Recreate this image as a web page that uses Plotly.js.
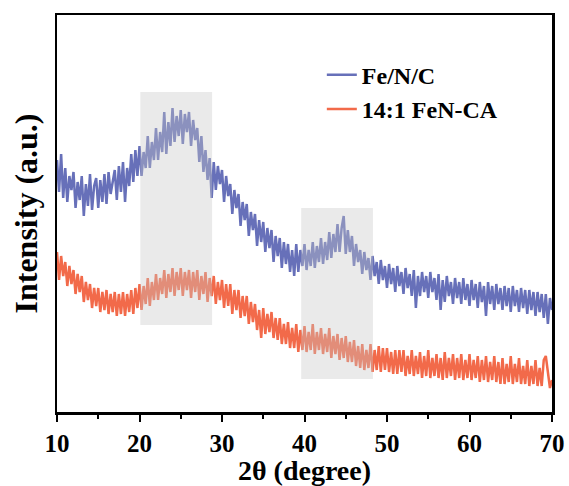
<!DOCTYPE html>
<html>
<head>
<meta charset="utf-8">
<script src="https://cdn.plot.ly/plotly-3.0.1.min.js"></script>
<style>html,body{margin:0;padding:0;background:#fff;}#chart{width:569px;height:486px;}</style>
</head>
<body>
<div id="chart"></div>
<script>
// 2θ grid: 10° to 70° in 0.25° steps
const angleStart = 10;
const angleStep = 0.25;

// Fe/N/C intensity (a.u.)
const feNC = [
252,220,258,214, 244,210,236,222, 240,204,230,212, 236,196,228,206,
238,202,226,234, 204,232,210,238, 208,240,218,230, 242,212,246,220,
250,210,244,226, 258,230,262,236, 266,236,260,244, 276,244,270,252,
284,252,280,260, 300,258,290,266, 304,270,296,276, 302,268,298,280,
300,266,292,272, 284,250,276,240, 262,232,254,214, 250,222,246,228,
242,210,236,216, 228,198,222,204, 218,186,210,192, 208,176,200,182,
198,166,192,170, 190,160,184,164, 182,150,176,156, 174,144,170,148,
168,140,162,136, 168,140,162,146, 168,142,162,146, 170,144,166,150,
174,148,170,152, 180,154,178,160, 188,160,184,196, 158,182,160,176,
146,168,150,162, 138,160,142,154, 132,156,136,150, 128,152,132,146,
124,148,128,144, 120,146,126,140, 118,144,124,138, 116,142,104,136,
116,140,120,136, 114,140,120,134, 112,138,102,132, 110,136,116,130,
108,134,114,130, 108,134,112,128, 106,132,112,128, 104,130,110,126,
96,130,108,126, 102,128,108,124, 102,126,106,124, 100,126,106,122,
100,124,104,122, 98,122,102,120, 96,120,100,118, 94,118,88,114,
102
];

// 14:1 FeN-CA intensity (a.u.)
const feNCA = [
160,132,156,136, 150,126,146,128, 142,118,138,120, 136,110,130,112,
128,104,124,106, 124,100,120,102, 122,98,118,100, 120,96,118,98,
120,96,118,100, 122,98,124,104, 128,102,126,108, 134,106,130,112,
138,112,134,118, 142,114,138,120, 144,116,140,122, 144,116,140,122,
142,114,140,120, 142,112,136,118, 140,110,134,116, 136,108,130,112,
132,104,128,106, 128,98,122,102, 122,94,116,96, 116,88,110,90,
108,82,102,74, 104,78,98,80, 100,74,94,72, 94,68,88,68,
90,64,84,64, 88,60,82,62, 86,60,80,62, 88,58,80,62,
84,58,78,60, 84,54,76,58, 78,52,74,54, 76,50,70,50,
72,46,66,44, 68,42,62,44, 68,40,62,42, 66,40,64,42,
64,40,60,38, 62,38,62,40, 62,36,56,38, 62,36,56,38,
60,34,56,36, 62,34,54,36, 58,34,54,32, 60,34,54,36,
58,32,54,34, 58,32,52,34, 58,32,52,34, 56,30,52,32,
56,30,50,32, 56,30,50,28, 54,28,48,30, 56,28,48,30,
54,28,46,28, 52,26,46,28, 52,26,44,26, 52,56,40,24,
32
];

// Shaded 2θ regions [start, end] and their intensity extents
const bandX = [[20.1, 28.8], [39.6, 48.3]];
const bandY = [[87, 320], [33, 204]];

const seriesNames = ["Fe/N/C", "14:1 FeN-CA"];
const seriesColors = ["#6770b9", "#f26a4a"];
const xTicks = [10, 20, 30, 40, 50, 60, 70];

const serif = "Liberation Serif, Times New Roman, serif";

const traces = [feNC, feNCA].map((ys, i) => ({
  type: "scatter",
  mode: "lines",
  x0: angleStart,
  dx: angleStep,
  y: ys,
  name: seriesNames[i],
  legendgroup: "g" + i,
  line: {color: seriesColors[i], width: 2.5}
}));

const shapes = bandX.map((bx, i) => ({
  type: "rect", xref: "x", yref: "y", layer: "above",
  x0: bx[0], x1: bx[1], y0: bandY[i][0], y1: bandY[i][1],
  fillcolor: "rgba(200,200,200,0.38)", line: {width: 0}
}));

const layout = {
  width: 569, height: 486,
  margin: {l: 57, r: 17, t: 15, b: 74},
  paper_bgcolor: "#fff", plot_bgcolor: "#fff",
  showlegend: true,
  legend: {
    x: 0.535, y: 0.905, xanchor: "left", yanchor: "top",
    font: {family: serif, size: 24, color: "#000", weight: "bold"},
    bgcolor: "rgba(0,0,0,0)", borderwidth: 0,
    traceorder: "grouped", tracegroupgap: 0
  },
  xaxis: {
    range: [10, 70], tickmode: "array", tickvals: xTicks,
    ticks: "outside", ticklen: 7, tickwidth: 2, tickcolor: "#000",
    minor: {dtick: 5, ticks: "outside", ticklen: 4, tickwidth: 2, tickcolor: "#000"},
    showline: true, linecolor: "#000", linewidth: 2.5, mirror: true,
    showgrid: false, zeroline: false,
    tickfont: {family: serif, size: 25, color: "#000", weight: "bold"},
    title: {text: "2θ (degree)", font: {family: serif, size: 28, color: "#000", weight: "bold"}, standoff: 0}
  },
  yaxis: {
    range: [0, 397],
    showticklabels: false, ticks: "",
    showline: true, linecolor: "#000", linewidth: 2.5, mirror: true,
    showgrid: false, zeroline: false,
    title: {text: "Intensity (a.u.)", font: {family: serif, size: 32, color: "#000", weight: "bold"}, standoff: 8}
  },
  shapes: shapes
};

Plotly.newPlot("chart", traces, layout, {displayModeBar: false, staticPlot: true});
</script>
</body>
</html>
